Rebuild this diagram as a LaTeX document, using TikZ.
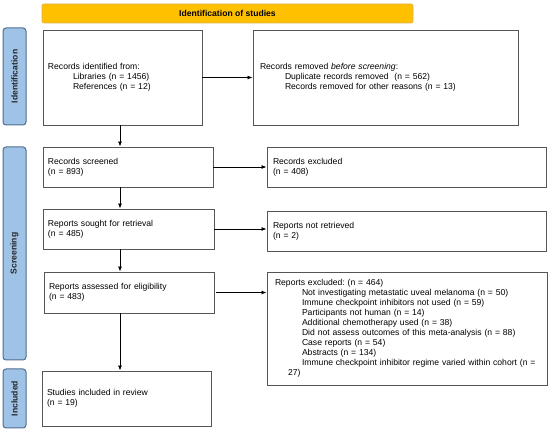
\documentclass[tikz,border=0pt]{standalone}
\usepackage{fontspec}
\setmainfont{Liberation Sans}
\usetikzlibrary{arrows.meta,calc}
\definecolor{bannerfill}{HTML}{FFC000}
\definecolor{bannerdraw}{HTML}{E3B14A}
\definecolor{sidefill}{HTML}{9FC3E7}
\definecolor{sidedraw}{HTML}{4E6E90}
\definecolor{boxdraw}{HTML}{555555}
\tikzset{
  every node/.style={font=\fontsize{8.6}{10}\selectfont},
  flowbox/.style={draw=boxdraw, line width=0.9pt, fill=white, align=left, inner xsep=5pt, inner ysep=2pt},
  sidebar/.style={draw=sidedraw, line width=1pt, fill=sidefill, rounded corners=3pt, minimum width=23pt, rotate=90, font=\fontsize{8.6}{10}\selectfont\bfseries, text=black!85},
  banner/.style={draw=bannerdraw, line width=0.8pt, fill=bannerfill, rounded corners=2pt, font=\fontsize{8.6}{10}\selectfont\bfseries},
  arr/.style={-{Latex[length=5pt,width=4pt]}, line width=0.8pt, black}
}
\newcommand{\ind}{\hspace*{25pt}}
\begin{document}
\frenchspacing
\begin{tikzpicture}[x=1pt,y=-1pt]
\useasboundingbox (0,0) rectangle (550,433);
% banner
\node[banner, minimum width=371pt, minimum height=19pt] (ban) at (227.5,13.5) {Identification of studies};
% side bars
\node[sidebar, minimum height=23pt, minimum width=97pt] (sid) at (14.5,76.5) {Identification};
\node[sidebar, minimum height=23pt, minimum width=213pt] (sscr) at (14.5,253.5) {Screening};
\node[sidebar, minimum height=23pt, minimum width=59pt] (sinc) at (14.5,398.5) {Included};
% left column
\node[flowbox, minimum width=159pt, minimum height=95pt, text width=149pt] (ident) at (122.5,77.5)
  {Records identified from:\\ \ind Libraries (n = 1456)\\ \ind References (n = 12)};
\node[flowbox, minimum width=170pt, minimum height=40pt, text width=160pt] (screen) at (128,167)
  {Records screened\\(n = 893)};
\node[flowbox, minimum width=171pt, minimum height=40pt, text width=161pt] (sought) at (128.5,229)
  {Reports sought for retrieval\\(n = 485)};
\node[flowbox, minimum width=170pt, minimum height=41pt, text width=160pt] (assess) at (129,292.5)
  {Reports assessed for eligibility\\(n = 483)};
\node[flowbox, minimum width=169pt, minimum height=55pt, text width=159pt] (incl) at (126.5,398.5)
  {Studies included in review\\(n = 19)};
% right column
\node[flowbox, inner xsep=7pt, minimum width=265pt, minimum height=95pt, text width=251pt] (removed) at (385.5,77.5)
  {Records removed \textit{before screening}:\\ \ind Duplicate records removed\ \ (n = 562)\\ \ind Records removed for other reasons (n = 13)};
\node[flowbox, inner xsep=6pt, minimum width=279pt, minimum height=40pt, text width=267pt] (excl) at (406.5,167)
  {Records excluded\\(n = 408)};
\node[flowbox, inner xsep=6pt, minimum width=279pt, minimum height=40pt, text width=267pt] (notret) at (406.5,231)
  {Reports not retrieved\\(n = 2)};
\node[flowbox, inner xsep=8pt, minimum width=280pt, minimum height=113pt, text width=264pt] (repex) at (407,328.5)
  {Reports excluded: (n = 464)\\
   \hspace*{27pt}Not investigating metastatic uveal melanoma (n = 50)\\
   \hspace*{27pt}Immune checkpoint inhibitors not used (n = 59)\\
   \hspace*{27pt}Participants not human (n = 14)\\
   \hspace*{27pt}Additional chemotherapy used (n = 38)\\
   \hspace*{27pt}Did not assess outcomes of this meta-analysis (n = 88)\\
   \hspace*{27pt}Case reports (n = 54)\\
   \hspace*{27pt}Abstracts (n = 134)\\
   \hspace*{27pt}Immune checkpoint inhibitor regime varied within cohort (n =\\
   \hspace*{13pt}27)};
% arrows
\coordinate (xl) at (120,0);
\draw[arr] (ident.south -| xl) -- (screen.north -| xl);
\draw[arr] (screen.south -| xl) -- (sought.north -| xl);
\draw[arr] (sought.south -| xl) -- (assess.north -| xl);
\draw[arr] (assess.south -| xl) -- (incl.north -| xl);
\draw[arr] (ident.east) -- (removed.west);
\draw[arr] (screen.east) -- (screen.east -| excl.west);
\draw[arr] (sought.east) -- (sought.east -| notret.west);
\draw[arr] ($(assess.east)+(2,0)$) -- (assess.east -| repex.west);
\end{tikzpicture}
\end{document}
